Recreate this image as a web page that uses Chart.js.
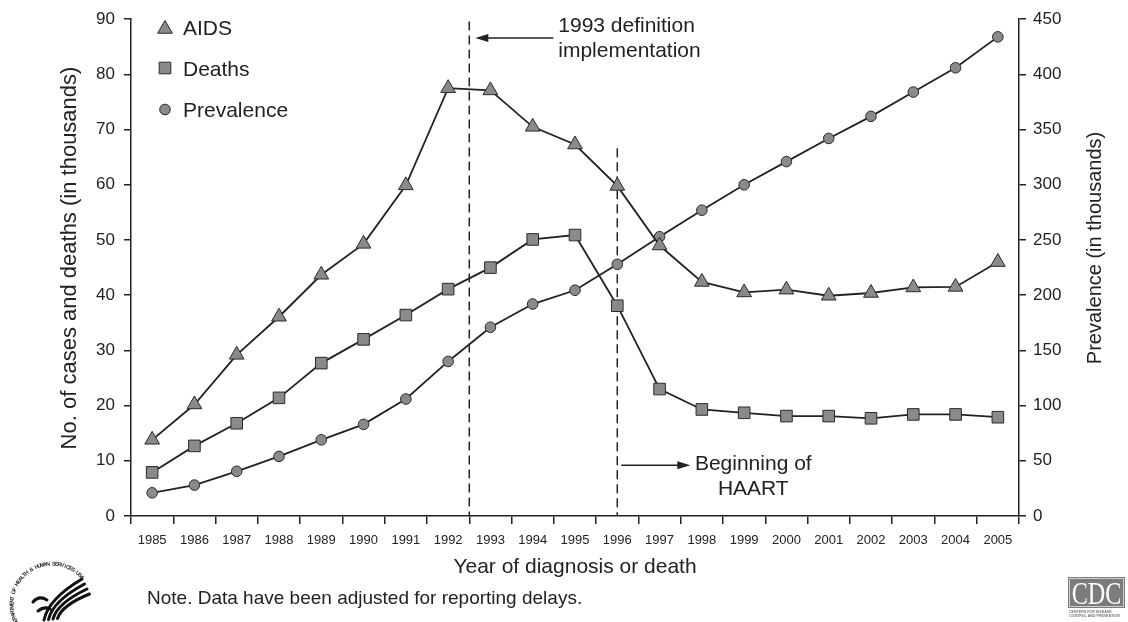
<!DOCTYPE html>
<html>
<head>
<meta charset="utf-8">
<script src="https://cdn.jsdelivr.net/npm/chart.js@4.4.1/dist/chart.umd.min.js"></script>
<style>
  html, body { margin: 0; padding: 0; background: #ffffff; }
  #wrap { width: 1128px; height: 622px; }
</style>
</head>
<body>
<div id="wrap"><canvas id="c" width="1128" height="622"></canvas></div>
<script>
// ---------------- data ----------------
const years = ['1985','1986','1987','1988','1989','1990','1991','1992','1993','1994','1995',
               '1996','1997','1998','1999','2000','2001','2002','2003','2004','2005'];
const aidsCases = [13.8, 20.2, 29.2, 36.1, 43.7, 49.3, 59.9, 77.5, 77.1, 70.5, 67.3,
                   59.8, 49.0, 42.4, 40.5, 41.0, 39.9, 40.4, 41.4, 41.5, 46.0];
const deaths    = [7.9, 12.7, 16.8, 21.4, 27.7, 32.0, 36.4, 41.1, 45.0, 50.1, 50.9,
                   38.1, 23.0, 19.3, 18.7, 18.1, 18.1, 17.7, 18.4, 18.4, 17.9];
const prevalence = [21, 28, 40.5, 54, 69, 83, 106, 140, 171, 192, 204.5,
                    228, 253, 277, 300, 321, 342, 362, 384, 406, 434];
const leftTicks  = [0, 10, 20, 30, 40, 50, 60, 70, 80, 90];
const rightTicks = [0, 50, 100, 150, 200, 250, 300, 350, 400, 450];

const seriesNames = ['AIDS', 'Deaths', 'Prevalence'];
const xTitle = 'Year of diagnosis or death';
const yLeftTitle = 'No. of cases and deaths (in thousands)';
const yRightTitle = 'Prevalence (in thousands)';
const noteText = 'Note. Data have been adjusted for reporting delays.';

// annotations (in data units of the left axis, thousands)
const defYear = '1993';
const defLines = ['1993 definition', 'implementation'];
const defLineTop = 89.6;
const defArrowAt = 86.6;
const haartYear = '1996';
const haartLines = ['Beginning of', 'HAART'];
const haartLineTop = 66.6;
const haartArrowAt = 9.2;

// ---------------- style ----------------
const FONT = '"Liberation Sans", Arial, Helvetica, sans-serif';
const INK = '#222222';
const MARK_FILL = '#8a8a8a';
const MARK_EDGE = '#2a2a2a';
Chart.defaults.font.family = FONT;
Chart.defaults.color = INK;

const markerStyles = [
  { pointStyle: 'triangle', radius: 8.5 },
  { pointStyle: 'rect', radius: 8.2 },
  { pointStyle: 'circle', radius: 5.3 }
];

function drawMarker(ctx, style, x, y) {
  const r = style.radius;
  ctx.beginPath();
  if (style.pointStyle === 'triangle') {
    ctx.moveTo(x, y - r);
    ctx.lineTo(x + Math.sin(2*Math.PI/3) * r, y - Math.cos(2*Math.PI/3) * r);
    ctx.lineTo(x + Math.sin(4*Math.PI/3) * r, y - Math.cos(4*Math.PI/3) * r);
    ctx.closePath();
  } else if (style.pointStyle === 'rect') {
    const s = Math.SQRT1_2 * r;
    ctx.rect(x - s, y - s, 2*s, 2*s);
  } else {
    ctx.arc(x, y, r, 0, Math.PI * 2);
  }
  ctx.fillStyle = MARK_FILL;
  ctx.strokeStyle = MARK_EDGE;
  ctx.lineWidth = 1;
  ctx.fill();
  ctx.stroke();
}

function arrow(ctx, xFrom, xTip, y) {
  const dir = xTip > xFrom ? 1 : -1;
  ctx.beginPath();
  ctx.moveTo(xFrom, y);
  ctx.lineTo(xTip - dir * 10, y);
  ctx.stroke();
  ctx.beginPath();
  ctx.moveTo(xTip, y);
  ctx.lineTo(xTip - dir * 13, y - 4);
  ctx.lineTo(xTip - dir * 13, y + 4);
  ctx.closePath();
  ctx.fill();
}

function drawHHS(ctx) {
  const cx = 52, cy = 604, r = 40;
  ctx.save();
  ctx.fillStyle = '#2a2a2a';
  ctx.font = 'bold 5.5px ' + FONT;
  ctx.textAlign = 'center';
  ctx.textBaseline = 'middle';
  const txt = 'DEPARTMENT OF HEALTH & HUMAN SERVICES\u00b7USA';
  const a0 = Math.PI * 0.84, a1 = Math.PI * 1.77;
  for (let i = 0; i < txt.length; i++) {
    const a = a0 + (a1 - a0) * i / (txt.length - 1);
    ctx.save();
    ctx.translate(cx + r * Math.cos(a), cy + r * Math.sin(a));
    ctx.rotate(a + Math.PI / 2);
    ctx.fillText(txt[i], 0, 0);
    ctx.restore();
  }
  // eagle: head + wing streaks
  ctx.strokeStyle = '#111';
  ctx.fillStyle = '#111';
  ctx.lineCap = 'round';
  ctx.lineJoin = 'round';
  ctx.lineWidth = 3;
  for (let k = 0; k < 4; k++) {
    ctx.beginPath();
    ctx.moveTo(44 + k * 4.5, 620 - k * 0.5);
    ctx.bezierCurveTo(47 + k * 4.5, 605 + k * 1.5, 60 + k * 4, 592 + k * 3, 82 + k * 2.5, 579 + k * 5);
    ctx.stroke();
  }
  // head / beak
  ctx.lineWidth = 3;
  ctx.beginPath();
  ctx.moveTo(33, 602);
  ctx.quadraticCurveTo(39, 595, 47, 600);
  ctx.stroke();
  ctx.beginPath();
  ctx.moveTo(38, 611);
  ctx.quadraticCurveTo(44, 606, 50, 609);
  ctx.stroke();
  ctx.restore();
}

function drawCDC(ctx) {
  ctx.save();
  ctx.fillStyle = '#7c7c7c';
  ctx.fillRect(1068, 577, 57, 31);
  ctx.strokeStyle = '#cfcfcf';
  ctx.lineWidth = 1;
  ctx.strokeRect(1069.5, 578.5, 54, 28);
  ctx.fillStyle = '#ffffff';
  ctx.font = '31px "Liberation Serif", "DejaVu Serif", serif';
  ctx.textAlign = 'center';
  ctx.textBaseline = 'alphabetic';
  ctx.save();
  ctx.translate(1096.5, 604);
  ctx.scale(0.78, 1);
  ctx.fillText('CDC', 0, 0);
  ctx.restore();
  ctx.fillStyle = '#777';
  ctx.font = 'bold 3.6px ' + FONT;
  ctx.textAlign = 'left';
  ctx.fillText('CENTERS FOR DISEASE', 1069, 613);
  ctx.fillText('CONTROL AND PREVENTION', 1069, 617);
  ctx.restore();
}

const annotPlugin = {
  id: 'annot',
  beforeDatasetsDraw(chart) {
    const { ctx, scales: { x, y } } = chart;
    const step = x.getPixelForValue(1) - x.getPixelForValue(0);
    const xDef = x.getPixelForValue(years.indexOf(defYear)) - step / 2;
    const xH = x.getPixelForValue(years.indexOf(haartYear));
    ctx.save();
    ctx.strokeStyle = INK;
    ctx.lineWidth = 1.5;
    ctx.setLineDash([9, 5]);
    ctx.beginPath();
    ctx.moveTo(xDef, y.getPixelForValue(defLineTop));
    ctx.lineTo(xDef, y.bottom);
    ctx.moveTo(xH, y.getPixelForValue(haartLineTop));
    ctx.lineTo(xH, y.bottom);
    ctx.stroke();
    ctx.restore();
  },
  afterDraw(chart) {
    const { ctx, chartArea, scales: { x, y } } = chart;
    const step = x.getPixelForValue(1) - x.getPixelForValue(0);
    const xDef = x.getPixelForValue(years.indexOf(defYear)) - step / 2;
    const xH = x.getPixelForValue(years.indexOf(haartYear));
    ctx.save();
    ctx.strokeStyle = INK;
    ctx.fillStyle = INK;
    ctx.lineWidth = 1.5;
    ctx.setLineDash([]);
    // 1993 definition arrow + text
    const yA = y.getPixelForValue(defArrowAt);
    arrow(ctx, xDef + 84, xDef + 6, yA);
    ctx.font = '21px ' + FONT;
    ctx.textAlign = 'left';
    ctx.textBaseline = 'alphabetic';
    ctx.fillText(defLines[0], xDef + 89, yA - 5.5);
    ctx.fillText(defLines[1], xDef + 89, yA + 19);
    // HAART arrow + text
    const yB = y.getPixelForValue(haartArrowAt);
    arrow(ctx, xH + 4, xH + 73, yB);
    ctx.textAlign = 'center';
    ctx.fillText(haartLines[0], xH + 136, yB + 5);
    ctx.fillText(haartLines[1], xH + 136, yB + 30);

    // legend
    const rowsY = [27, 68, 109.5];
    ctx.font = '21px ' + FONT;
    ctx.textAlign = 'left';
    for (let i = 0; i < 3; i++) {
      const my = rowsY[i] + (markerStyles[i].pointStyle === 'triangle' ? 2 : 0);
      drawMarker(ctx, markerStyles[i], chartArea.left + 34, my);
      ctx.fillStyle = INK;
      ctx.fillText(seriesNames[i], chartArea.left + 52, rowsY[i] + 7.5);
    }

    // vertical axis titles (both read bottom to top)
    ctx.fillStyle = INK;
    ctx.textAlign = 'center';
    ctx.textBaseline = 'middle';
    ctx.save();
    ctx.font = '22px ' + FONT;
    ctx.translate(70, 258);
    ctx.rotate(-Math.PI / 2);
    ctx.fillText(yLeftTitle, 0, 0);
    ctx.restore();
    ctx.save();
    ctx.font = '20px ' + FONT;
    ctx.translate(1095, 248);
    ctx.rotate(-Math.PI / 2);
    ctx.fillText(yRightTitle, 0, 0);
    ctx.restore();

    // note
    ctx.font = '19px ' + FONT;
    ctx.textAlign = 'left';
    ctx.textBaseline = 'alphabetic';
    ctx.fillText(noteText, 147, 604);
    ctx.restore();

    drawHHS(ctx);
    drawCDC(ctx);
  }
};

function dataset(label, data, axis, i) {
  return {
    label, data, yAxisID: axis,
    borderColor: INK, borderWidth: 1.8, tension: 0, fill: false,
    pointStyle: markerStyles[i].pointStyle,
    pointRadius: markerStyles[i].radius,
    pointHoverRadius: markerStyles[i].radius,
    pointBackgroundColor: MARK_FILL,
    pointBorderColor: MARK_EDGE,
    pointBorderWidth: 1
  };
}

const tickFontY = { family: FONT, size: 17 };

new Chart(document.getElementById('c'), {
  type: 'line',
  data: {
    labels: years,
    datasets: [
      dataset(seriesNames[0], aidsCases, 'y', 0),
      dataset(seriesNames[1], deaths, 'y', 1),
      dataset(seriesNames[2], prevalence, 'y1', 2)
    ]
  },
  options: {
    responsive: false,
    animation: false,
    devicePixelRatio: 1,
    layout: { padding: { top: 16, left: 0, right: 0, bottom: 0 } },
    plugins: { legend: { display: false }, tooltip: { enabled: false } },
    scales: {
      x: {
        type: 'category',
        offset: true,
        grid: { offset: true, drawOnChartArea: false, drawTicks: true, tickLength: 8, color: INK, lineWidth: 1.5 },
        border: { display: true, color: INK, width: 1.5 },
        ticks: { font: { family: FONT, size: 13 }, color: INK, padding: 9, autoSkip: false, maxRotation: 0, minRotation: 0 },
        title: { display: true, text: xTitle, color: INK, font: { family: FONT, size: 21 }, padding: { top: 0, bottom: 42 } },
        afterFit(s) { s.height = 106; }
      },
      y: {
        position: 'left',
        min: 0, max: 90,
        afterBuildTicks(s) { s.ticks = leftTicks.map(v => ({ value: v })); },
        grid: { drawOnChartArea: false, drawTicks: true, tickLength: 7, color: INK, lineWidth: 1.5 },
        border: { display: true, color: INK, width: 1.5 },
        ticks: { font: tickFontY, color: INK, padding: 9 },
        afterFit(s) { s.width = 131; }
      },
      y1: {
        position: 'right',
        min: 0, max: 450,
        afterBuildTicks(s) { s.ticks = rightTicks.map(v => ({ value: v })); },
        grid: { drawOnChartArea: false, drawTicks: true, tickLength: 7, color: INK, lineWidth: 1.5 },
        border: { display: true, color: INK, width: 1.5 },
        ticks: { font: tickFontY, color: INK, padding: 7 },
        afterFit(s) { s.width = 109; }
      }
    }
  },
  plugins: [annotPlugin]
});
</script>
</body>
</html>
